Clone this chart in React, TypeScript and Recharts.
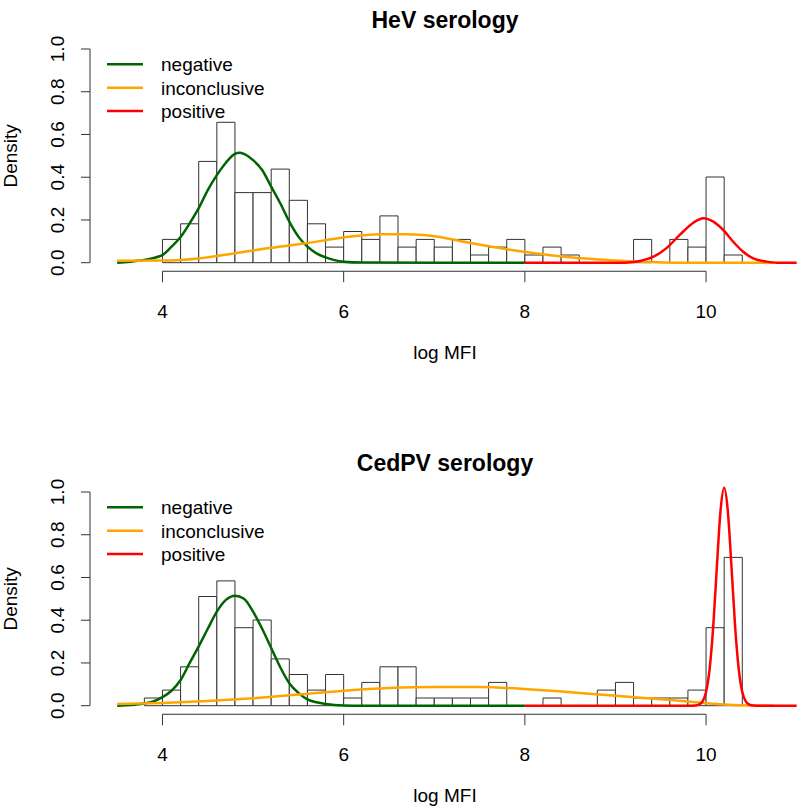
import React from "react";
import { ComposedChart, Line, XAxis, YAxis, ReferenceArea, ReferenceLine } from "recharts";

// histogram bins (left edges, width 0.2)
const BIN_LEFT = [
  3.8, 4.0, 4.2, 4.4, 4.6, 4.8, 5.0, 5.2, 5.4, 5.6, 5.8, 6.0, 6.2, 6.4, 6.6, 6.8, 7.0,
  7.2, 7.4, 7.6, 7.8, 8.0, 8.2, 8.4, 8.6, 8.8, 9.0, 9.2, 9.4, 9.6, 9.8, 10.0, 10.2, 10.4,
];
const BIN_WIDTH = 0.2;

const HEV_HIST = [
  0, 0.109, 0.182, 0.474, 0.657, 0.328, 0.328, 0.438, 0.292, 0.182, 0.073, 0.146, 0.109, 0.219, 0.073, 0.109, 0.073,
  0.109, 0.036, 0.073, 0.109, 0.036, 0.073, 0.036, 0, 0, 0, 0.109, 0, 0.109, 0.073, 0.401, 0.036, 0,
];
const CEDPV_HIST = [
  0.036, 0.073, 0.182, 0.511, 0.584, 0.365, 0.401, 0.219, 0.146, 0.073, 0.146, 0.036, 0.109, 0.182, 0.182, 0.036, 0.036,
  0.036, 0.036, 0.109, 0, 0, 0.036, 0, 0, 0.073, 0.109, 0.036, 0.036, 0.036, 0.073, 0.365, 0.694, 0,
];

// density curves, HeV
const hevNegX = [3.5, 3.75, 4.0, 4.1, 4.2, 4.3, 4.4, 4.5, 4.6, 4.7, 4.8, 4.85, 4.9, 5.0, 5.1, 5.2, 5.3, 5.4, 5.5, 5.6, 5.7, 5.8, 5.9, 6.0, 6.2, 8.0];
const hevNegY = [0, 0.01, 0.036, 0.075, 0.12, 0.184, 0.255, 0.34, 0.41, 0.468, 0.509, 0.515, 0.509, 0.48, 0.434, 0.356, 0.278, 0.192, 0.122, 0.075, 0.044, 0.025, 0.012, 0.005, 0.001, 0];
const hevIncX = [3.5, 4.0, 4.4, 4.8, 5.2, 5.6, 6.0, 6.4, 6.7, 7.0, 7.4, 7.8, 8.2, 8.5, 8.9, 9.1, 9.4, 9.7, 10.75];
const hevIncY = [0.009, 0.01, 0.02, 0.044, 0.07, 0.092, 0.118, 0.133, 0.133, 0.124, 0.092, 0.063, 0.04, 0.026, 0.013, 0.008, 0.003, 0, 0];
const hevPosX = [8.0, 9.1, 9.27, 9.42, 9.56, 9.71, 9.86, 9.97, 10.08, 10.19, 10.3, 10.41, 10.52, 10.67, 10.78, 11.0];
const hevPosY = [0, 0, 0.008, 0.028, 0.067, 0.13, 0.187, 0.208, 0.192, 0.153, 0.098, 0.051, 0.02, 0.005, 0, 0];

// density curves, CedPV
const cedNegX = [3.5, 3.6, 3.7, 3.8, 3.9, 4.0, 4.1, 4.2, 4.3, 4.4, 4.5, 4.6, 4.7, 4.8, 4.9, 5.0, 5.1, 5.2, 5.3, 5.4, 5.5, 5.6, 5.7, 5.8, 5.9, 6.0, 6.2, 8.0];
const cedNegY = [0, 0.002, 0.005, 0.01, 0.02, 0.04, 0.07, 0.12, 0.2, 0.278, 0.36, 0.44, 0.495, 0.515, 0.5, 0.44, 0.36, 0.27, 0.18, 0.105, 0.06, 0.03, 0.016, 0.008, 0.003, 0.001, 0, 0];
const cedIncX = [3.5, 4.0, 4.5, 5.0, 5.5, 6.0, 6.5, 7.0, 7.5, 8.0, 8.5, 9.0, 9.5, 9.8, 10.0, 10.2, 10.5, 10.75];
const cedIncY = [0.008, 0.013, 0.022, 0.035, 0.052, 0.07, 0.083, 0.088, 0.087, 0.078, 0.063, 0.047, 0.03, 0.02, 0.012, 0.006, 0.001, 0];
const cedPosX = [8.0, 9.8, 9.88, 9.92, 9.96, 10.0, 10.04, 10.08, 10.12, 10.16, 10.2, 10.24, 10.28, 10.32, 10.36, 10.4, 10.44, 10.48, 10.52, 10.6, 11.0];
const cedPosY = [0, 0, 0.001, 0.005, 0.019, 0.064, 0.174, 0.376, 0.655, 0.913, 1.02, 0.913, 0.655, 0.376, 0.174, 0.064, 0.019, 0.005, 0.001, 0, 0];

const X_TICKS = [4, 6, 8, 10];
const Y_TICKS = [0, 0.2, 0.4, 0.6, 0.8, 1.0];
const GROUPS = ["negative", "inconclusive", "positive"];
const COLORS: Record<string, string> = {
  negative: "#006400",
  inconclusive: "#FFA500",
  positive: "#FF0000",
};

const FONT = '"Liberation Sans", Arial, Helvetica, sans-serif';
const AXIS_COLOR = "#333";

const toPoints = (xs: number[], ys: number[]) => xs.map((x, i) => ({ x, y: ys[i] }));

const XTick = ({ x, payload }: any) => (
  <text x={x} y={318} textAnchor="middle" fontSize={19} fontFamily={FONT} fill="#000">
    {payload.value}
  </text>
);

const YTick = ({ y, payload }: any) => (
  <text
    x={64}
    y={y}
    transform={`rotate(-90 64 ${y})`}
    textAnchor="middle"
    fontSize={19}
    fontFamily={FONT}
    fill="#000"
  >
    {Number(payload.value).toFixed(1)}
  </text>
);

interface PanelProps {
  title: string;
  hist: number[];
  curves: { name: string; xs: number[]; ys: number[] }[];
  height: number;
}

const Panel = ({ title, hist, curves, height }: PanelProps) => {
  const bins = BIN_LEFT.map((x0, i) => ({
    x0,
    x1: Math.round((x0 + BIN_WIDTH) * 10) / 10,
    d: hist[i],
  })).filter((b) => b.d > 0);

  return (
    <ComposedChart width={800} height={height} margin={{ top: 40.45, right: 0, bottom: 0, left: 0 }}>
      <XAxis
        type="number"
        dataKey="x"
        domain={[3.2, 11.037]}
        allowDataOverflow
        ticks={X_TICKS}
        interval={0}
        axisLine={false}
        tickSize={11}
        tickLine={{ stroke: AXIS_COLOR }}
        tick={XTick}
        height={height - 271.25}
      />
      <YAxis
        type="number"
        domain={[-0.04, 1.04]}
        allowDataOverflow
        ticks={Y_TICKS}
        interval={0}
        width={90}
        axisLine={false}
        tickSize={9}
        tickLine={{ stroke: AXIS_COLOR }}
        tick={YTick}
      />
      {bins.map((b) => (
        <ReferenceArea
          key={b.x0}
          x1={b.x0}
          x2={b.x1}
          y1={0}
          y2={b.d}
          fill="#fff"
          fillOpacity={1}
          stroke={AXIS_COLOR}
          strokeWidth={1}
          ifOverflow="visible"
        />
      ))}
      <ReferenceLine
        segment={[{ x: 4, y: -0.04 }, { x: 10, y: -0.04 }]}
        stroke={AXIS_COLOR}
        strokeWidth={1}
        ifOverflow="visible"
      />
      <ReferenceLine
        segment={[{ x: 3.2, y: 0 }, { x: 3.2, y: 1 }]}
        stroke={AXIS_COLOR}
        strokeWidth={1}
        ifOverflow="visible"
      />
      {curves.map((c) => (
        <Line
          key={c.name}
          data={toPoints(c.xs, c.ys)}
          dataKey="y"
          type="monotone"
          stroke={COLORS[c.name]}
          strokeWidth={2.5}
          dot={false}
          activeDot={false}
          isAnimationActive={false}
        />
      ))}
      <text x={445} y={28} textAnchor="middle" fontSize={23} fontWeight="bold" fontFamily={FONT} fill="#000">
        {title}
      </text>
      <text x={445} y={359} textAnchor="middle" fontSize={19} fontFamily={FONT} fill="#000">
        log MFI
      </text>
      <text
        x={17}
        y={155.85}
        transform="rotate(-90 17 155.85)"
        textAnchor="middle"
        fontSize={19}
        fontFamily={FONT}
        fill="#000"
      >
        Density
      </text>
      {GROUPS.map((g, i) => (
        <g key={g}>
          <line x1={107} x2={143} y1={64.3 + i * 23.35} y2={64.3 + i * 23.35} stroke={COLORS[g]} strokeWidth={2.5} />
          <text x={161} y={71.3 + i * 23.35} fontSize={19} fontFamily={FONT} fill="#000">
            {g}
          </text>
        </g>
      ))}
    </ComposedChart>
  );
};

export default function App() {
  return (
    <div style={{ position: "absolute", left: 0, top: 0, width: 800, height: 811, background: "#fff" }}>
      <Panel
        title="HeV serology"
        hist={HEV_HIST}
        height={443}
        curves={[
          { name: "negative", xs: hevNegX, ys: hevNegY },
          { name: "inconclusive", xs: hevIncX, ys: hevIncY },
          { name: "positive", xs: hevPosX, ys: hevPosY },
        ]}
      />
      <Panel
        title="CedPV serology"
        hist={CEDPV_HIST}
        height={368}
        curves={[
          { name: "negative", xs: cedNegX, ys: cedNegY },
          { name: "inconclusive", xs: cedIncX, ys: cedIncY },
          { name: "positive", xs: cedPosX, ys: cedPosY },
        ]}
      />
    </div>
  );
}
